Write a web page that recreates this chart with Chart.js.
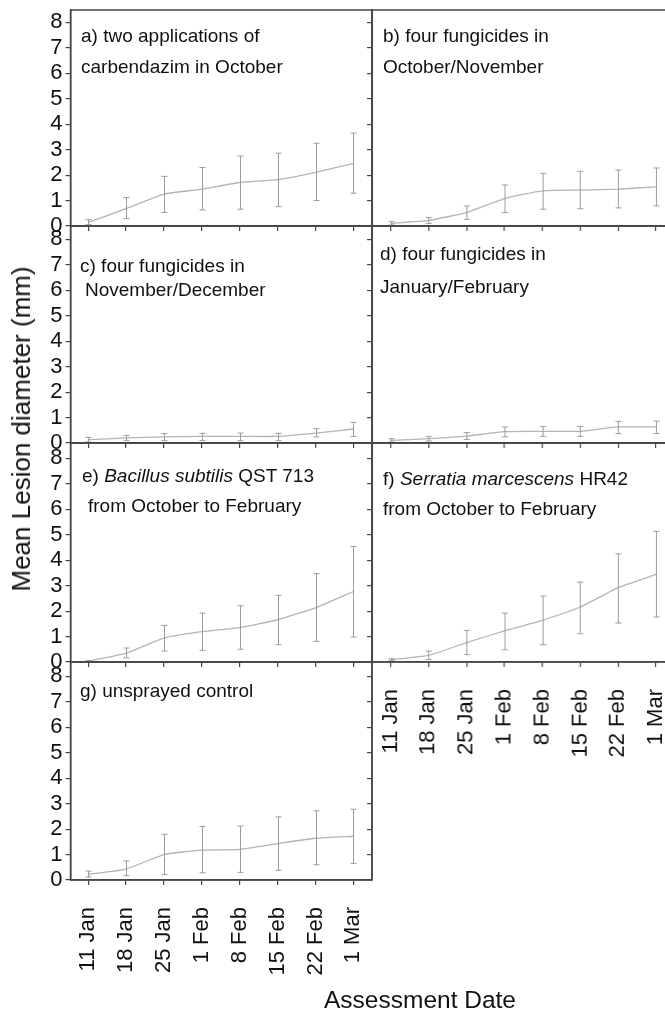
<!DOCTYPE html>
<html>
<head>
<meta charset="utf-8">
<script src="https://cdn.jsdelivr.net/npm/chart.js@4.4.1/dist/chart.umd.min.js"></script>
<style>
    html, body { margin: 0; padding: 0; background: #fff; overflow: hidden; }
    body { width: 665px; height: 1014px; position: relative; font-family: "Liberation Sans", Arial, sans-serif; color: #111; }
    .panel { position: absolute; }
    .note { position: absolute; font-size: 19px; line-height: 1; white-space: nowrap; transform: translateY(-50%); }
    .ytitle { position: absolute; left: 21px; top: 429px; font-size: 26px; line-height: 1; white-space: nowrap;
              transform: translate(-50%, -50%) rotate(-90deg); }
    .xtitle { position: absolute; left: 420px; top: 1000px; font-size: 24.5px; line-height: 1; white-space: nowrap;
              transform: translate(-50%, -50%); }
</style>
</head>
<body>
<div id="panels"></div>

<div class="note" style="left:81px;top:35px">a) two applications of</div>
<div class="note" style="left:81px;top:66px">carbendazim in October</div>
<div class="note" style="left:383px;top:35px">b) four fungicides in</div>
<div class="note" style="left:383px;top:66px">October/November</div>
<div class="note" style="left:80px;top:265px">c) four fungicides in</div>
<div class="note" style="left:85px;top:289px">November/December</div>
<div class="note" style="left:380px;top:253px">d) four fungicides in</div>
<div class="note" style="left:380px;top:286px">January/February</div>
<div class="note" style="left:82px;top:475px">e) <i>Bacillus subtilis</i> QST 713</div>
<div class="note" style="left:88px;top:505px">from October to February</div>
<div class="note" style="left:383px;top:478px">f) <i>Serratia marcescens</i> HR42</div>
<div class="note" style="left:383px;top:508px">from October to February</div>
<div class="note" style="left:80px;top:690px">g) unsprayed control</div>

<div class="ytitle">Mean Lesion diameter (mm)</div>
<div class="xtitle">Assessment Date</div>

<script>
const dates = ["11 Jan", "18 Jan", "25 Jan", "1 Feb", "8 Feb", "15 Feb", "22 Feb", "1 Mar"];
const yTicks = [0, 1, 2, 3, 4, 5, 6, 7, 8];

// a) two applications of carbendazim in October
const meanA = [0.14, 0.68, 1.25, 1.45, 1.71, 1.82, 2.11, 2.46];
const lowA = [0.05, 0.29, 0.53, 0.63, 0.66, 0.76, 1.0, 1.29];
const highA = [0.25, 1.12, 1.95, 2.3, 2.75, 2.86, 3.25, 3.65];

// b) four fungicides in October/November
const meanB = [0.1, 0.22, 0.53, 1.08, 1.38, 1.41, 1.45, 1.54];
const lowB = [0.04, 0.1, 0.26, 0.53, 0.66, 0.68, 0.71, 0.79];
const highB = [0.17, 0.33, 0.79, 1.61, 2.07, 2.15, 2.2, 2.28];

// c) four fungicides in November/December
const meanC = [0.13, 0.2, 0.24, 0.26, 0.26, 0.26, 0.39, 0.55];
const lowC = [0.04, 0.09, 0.09, 0.1, 0.09, 0.09, 0.24, 0.26];
const highC = [0.22, 0.3, 0.37, 0.38, 0.39, 0.38, 0.56, 0.81];

// d) four fungicides in January/February
const meanD = [0.1, 0.17, 0.27, 0.45, 0.46, 0.46, 0.63, 0.63];
const lowD = [0.04, 0.08, 0.14, 0.24, 0.26, 0.26, 0.37, 0.37];
const highD = [0.17, 0.26, 0.41, 0.63, 0.65, 0.65, 0.85, 0.86];

// e) Bacillus subtilis QST 713
const meanE = [0.03, 0.35, 0.94, 1.19, 1.35, 1.66, 2.13, 2.77];
const lowE = [0.0, 0.16, 0.43, 0.46, 0.5, 0.68, 0.81, 0.98];
const highE = [0.06, 0.55, 1.44, 1.92, 2.21, 2.62, 3.47, 4.54];

// f) Serratia marcescens HR42
const meanF = [0.09, 0.26, 0.76, 1.22, 1.64, 2.16, 2.92, 3.44];
const lowF = [0.05, 0.1, 0.29, 0.48, 0.68, 1.11, 1.53, 1.77];
const highF = [0.13, 0.43, 1.24, 1.92, 2.59, 3.14, 4.25, 5.13];

// g) unsprayed control
const meanG = [0.22, 0.43, 1.0, 1.17, 1.2, 1.43, 1.64, 1.72];
const lowG = [0.12, 0.17, 0.22, 0.28, 0.3, 0.38, 0.6, 0.65];
const highG = [0.35, 0.75, 1.8, 2.1, 2.12, 2.48, 2.72, 2.78];

const AXIS = "#474747";
const TICK_FONT = { family: "'Liberation Sans', Arial, sans-serif", size: 22 };

// plot rectangles in page pixels
const columns = [
    { left: 70.5, right: 372, xMin: -0.465, xMax: 7.49, leftM: 70.5 },
    { left: 372, right: 673.6, xMin: -0.49, xMax: 7.49, leftM: 8 },
];

const panels = [
    { col: 0, top: 10, bottom: 226, mean: meanA, low: lowA, high: highA, yLabels: true },
    { col: 1, top: 10, bottom: 226, mean: meanB, low: lowB, high: highB },
    { col: 0, top: 226, bottom: 443, mean: meanC, low: lowC, high: highC, yLabels: true },
    { col: 1, top: 226, bottom: 443, mean: meanD, low: lowD, high: highD },
    { col: 0, top: 443, bottom: 662, mean: meanE, low: lowE, high: highE, yLabels: true },
    { col: 1, top: 443, bottom: 662, mean: meanF, low: lowF, high: highF, xLabels: true },
    { col: 0, top: 662, bottom: 880, mean: meanG, low: lowG, high: highG, yLabels: true, xLabels: true },
    { col: 1, top: 662, bottom: 880, mean: [], low: [], high: [], empty: true },
];

const frameAndBars = {
    id: "frameAndBars",
    afterDatasetsDraw(chart, args, opts) {
        const { ctx, chartArea: area, scales: { x, y } } = chart;
        ctx.save();
        ctx.strokeStyle = "#9c9c9c";
        ctx.lineWidth = 1;
        opts.low.forEach((lo, i) => {
            const px = Math.round(x.getPixelForValue(i)) + 0.5;
            const y1 = y.getPixelForValue(lo);
            const y2 = y.getPixelForValue(opts.high[i]);
            ctx.beginPath();
            ctx.moveTo(px, y1);
            ctx.lineTo(px, y2);
            ctx.moveTo(px - 3, y1);
            ctx.lineTo(px + 3, y1);
            ctx.moveTo(px - 3, y2);
            ctx.lineTo(px + 3, y2);
            ctx.stroke();
        });
        if (opts.frame) {
            ctx.strokeStyle = AXIS;
            ctx.lineWidth = 1.5;
            ctx.strokeRect(area.left, area.top, area.width, area.height);
        }
        ctx.restore();
    },
};

function noPadding(s) {
    s.paddingTop = 0;
    s.paddingBottom = 0;
    s.paddingLeft = 0;
    s.paddingRight = 0;
}

function makePanel(p) {
    const col = columns[p.col];
    const topM = 2;
    const rightM = 2;
    const bottomM = p.xLabels ? 110 : 8;
    const plotW = col.right - col.left;
    const plotH = p.bottom - p.top;

    const box = document.createElement("div");
    box.className = "panel";
    box.style.left = (col.left - col.leftM) + "px";
    box.style.top = (p.top - topM) + "px";
    box.style.width = (plotW + col.leftM + rightM) + "px";
    box.style.height = (plotH + topM + bottomM) + "px";
    box.innerHTML = "<canvas></canvas>";
    document.getElementById("panels").appendChild(box);

    const yMax = plotH / 25.45;

    new Chart(box.querySelector("canvas"), {
        type: "line",
        data: {
            datasets: [
                {
                    data: p.mean.map((v, i) => ({ x: i, y: v })),
                    borderColor: "#b4b4b4",
                    borderWidth: 1.3,
                    pointRadius: 0,
                    tension: 0.15,
                    fill: false,
                },
            ],
        },
        options: {
            responsive: true,
            maintainAspectRatio: false,
            animation: false,
            events: [],
            layout: { padding: { top: topM, right: rightM, left: 0, bottom: 0 } },
            scales: {
                x: {
                    type: "linear",
                    display: !p.empty,
                    min: col.xMin,
                    max: col.xMax,
                    afterBuildTicks: (s) => { s.ticks = dates.map((d, i) => ({ value: i })); },
                    afterFit: (s) => { s.height = bottomM; noPadding(s); },
                    ticks: {
                        display: !!p.xLabels,
                        autoSkip: false,
                        minRotation: 90,
                        maxRotation: 90,
                        padding: 22,
                        color: "#111",
                        font: TICK_FONT,
                        callback: (v) => dates[v],
                    },
                    grid: { drawOnChartArea: false, tickLength: 5, color: AXIS, lineWidth: 1.2 },
                    border: { display: true, color: AXIS, width: 1.5 },
                },
                y: {
                    min: 0,
                    max: yMax,
                    afterBuildTicks: (s) => { s.ticks = yTicks.map((v) => ({ value: v })); },
                    afterFit: (s) => { s.width = col.leftM; noPadding(s); },
                    ticks: {
                        display: !!p.yLabels,
                        autoSkip: false,
                        padding: 3,
                        color: "#111",
                        font: TICK_FONT,
                    },
                    grid: { drawOnChartArea: false, tickLength: 5, color: AXIS, lineWidth: 1.2 },
                    border: { display: true, color: AXIS, width: 1.5 },
                },
            },
            plugins: {
                legend: { display: false },
                tooltip: { enabled: false },
                frameAndBars: { low: p.low, high: p.high, frame: !p.empty },
            },
        },
        plugins: [frameAndBars],
    });
}

panels.forEach(makePanel);
</script>
</body>
</html>
